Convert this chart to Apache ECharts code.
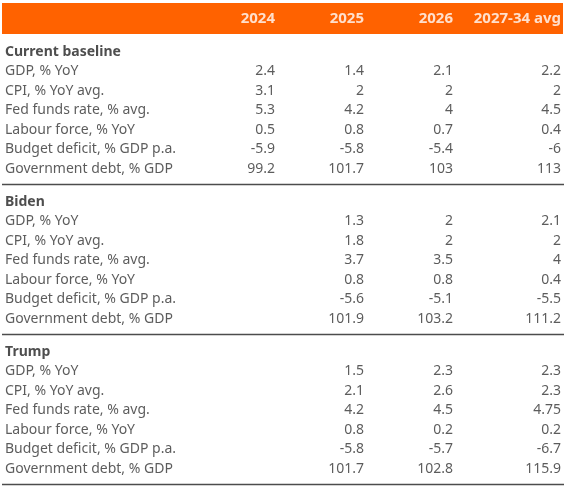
<!DOCTYPE html>
<html><head><meta charset="utf-8">
<script src="https://cdn.jsdelivr.net/npm/echarts@6/dist/echarts.min.js"></script>
<style>html,body{margin:0;padding:0;background:#fff}#c{width:568px;height:488px}</style>
</head><body><div id="c"></div>
<script>
// ---- data ----
const columns = ['2024', '2025', '2026', '2027-34 avg'];
const sections = ['Current baseline', 'Biden', 'Trump'];
const indicators = ['GDP, % YoY', 'CPI, % YoY avg.', 'Fed funds rate, % avg.', 'Labour force, % YoY', 'Budget deficit, % GDP p.a.', 'Government debt, % GDP'];
const baseline2024 = [2.4, 3.1, 5.3, 0.5, -5.9, 99.2];
const baseline2025 = [1.4, 2, 4.2, 0.8, -5.8, 101.7];
const baseline2026 = [2.1, 2, 4, 0.7, -5.4, 103];
const baselineLong = [2.2, 2, 4.5, 0.4, -6, 113];
const biden2024 = [null, null, null, null, null, null];
const biden2025 = [1.3, 1.8, 3.7, 0.8, -5.6, 101.9];
const biden2026 = [2, 2, 3.5, 0.8, -5.1, 103.2];
const bidenLong = [2.1, 2, 4, 0.4, -5.5, 111.2];
const trump2024 = [null, null, null, null, null, null];
const trump2025 = [1.5, 2.1, 4.2, 0.8, -5.8, 101.7];
const trump2026 = [2.3, 2.6, 4.5, 0.2, -5.7, 102.8];
const trumpLong = [2.3, 2.3, 4.75, 0.2, -6.7, 115.9];

const sectionValues = [
  [baseline2024, baseline2025, baseline2026, baselineLong],
  [biden2024, biden2025, biden2026, bidenLong],
  [trump2024, trump2025, trump2026, trumpLong]
];

// ---- layout (styling) ----
const W = 568, H = 488;
const ROW_H = 19.5;       // px per row unit
const FIRST_Y = 52;       // px of first body row
const SECTION_PERIOD = 150 / ROW_H; // row units per section block
const HEADER_U = (19 - FIRST_Y) / ROW_H;
const COL_W = 89;         // px per column unit
const COL1_X = 275;       // px of first value column right edge
const xMin = 1 - COL1_X / COL_W;
const xMax = xMin + W / COL_W;
const yMin = -FIRST_Y / ROW_H;
const yMax = yMin + H / ROW_H;
const colOffset = [0, 0, 0, 19];
const FONT = 'Noto Sans';
const TEXT = '#333333';

// build cells
const labelData = [];
const sectionTitleData = [];
const valueSeries = columns.map(() => []);
sections.forEach((s, si) => {
  const base = si * SECTION_PERIOD;
  sectionTitleData.push({ value: [xMin, base], name: s });
  indicators.forEach((ind, k) => {
    labelData.push({ value: [xMin, base + k + 1], name: ind });
    columns.forEach((c, ci) => {
      const v = sectionValues[si][ci][k];
      if (v !== null) valueSeries[ci].push({ value: [ci + 1, base + k + 1], name: String(v) });
    });
  });
});

const textLabel = (extra) => Object.assign({
  show: true, position: 'inside', verticalAlign: 'middle',
  fontFamily: FONT, fontSize: 14, color: TEXT,
  formatter: p => p.name
}, extra);

const series = [
  {
    type: 'scatter', symbolSize: 0, silent: true,
    data: columns.map((c, ci) => ({ value: [ci + 1, HEADER_U], name: c, label: { offset: [colOffset[ci], 0] } })),
    label: textLabel({ align: 'right', color: '#ffffff', fontWeight: 'bold', fontSize: 15 })
  },
  {
    type: 'scatter', symbolSize: 0, silent: true, data: sectionTitleData,
    label: textLabel({ align: 'left', offset: [5, 0], fontWeight: 'bold', fontSize: 14, color: '#222222' })
  },
  {
    type: 'scatter', symbolSize: 0, silent: true, data: labelData,
    label: textLabel({ align: 'left', offset: [5, 0] })
  }
].concat(valueSeries.map((d, ci) => ({
  type: 'scatter', symbolSize: 0, silent: true, data: d,
  label: textLabel({ align: 'right', offset: [colOffset[ci], 0] })
})));

const chart = echarts.init(document.getElementById('c'), null, { renderer: 'canvas' });
chart.setOption({
  animation: false,
  backgroundColor: '#ffffff',
  grid: { left: 0, right: 0, top: 0, bottom: 0 },
  xAxis: { type: 'value', min: xMin, max: xMax, show: false },
  yAxis: { type: 'value', min: yMin, max: yMax, inverse: true, show: false },
  series: series
});

// decorations: header band and section separators
const px = (x, y) => chart.convertToPixel({ gridIndex: 0 }, [x, y]);
const graphics = [];
const bandTop = px(0, HEADER_U)[1] - 16, bandBot = px(0, HEADER_U)[1] + 15;
graphics.push({ type: 'rect', z: -1, shape: { x: 2, y: bandTop, width: 561, height: bandBot - bandTop }, style: { fill: '#ff6200' } });
sections.forEach((s, si) => {
  const y = Math.round(px(0, si * SECTION_PERIOD + 6)[1] + 15) + 0.5;
  graphics.push({ type: 'line', shape: { x1: 2, y1: y, x2: 564, y2: y }, style: { stroke: '#4d4d4d', lineWidth: 1.5 } });
});
chart.setOption({ graphic: graphics });
</script>
</body></html>
